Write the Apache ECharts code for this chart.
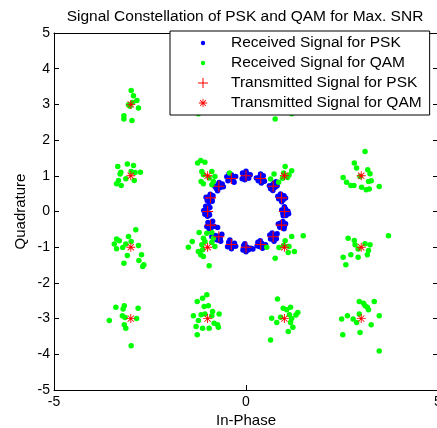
<!DOCTYPE html>
<html><head><meta charset="utf-8">
<script src="https://cdn.jsdelivr.net/npm/echarts@6/dist/echarts.min.js"></script>
<style>html,body{margin:0;padding:0;background:#fff}#c{width:437px;height:428px}</style>
</head><body><div id="c"></div>
<script>
const titleText = 'Signal Constellation of PSK and QAM for Max. SNR';
const xName = 'In-Phase';
const yName = 'Quadrature';
const seriesNames = ['Received Signal for PSK','Received Signal for QAM','Transmitted Signal for PSK','Transmitted Signal for QAM'];
const axisMin = -5, axisMax = 5;

const pskTx = [[1,0],[0.924,0.383],[0.707,0.707],[0.383,0.924],[0,1],[-0.383,0.924],[-0.707,0.707],[-0.924,0.383],
  [-1,0],[-0.924,-0.383],[-0.707,-0.707],[-0.383,-0.924],[0,-1],[0.383,-0.924],[0.707,-0.707],[0.924,-0.383]];

const qamTx = [[-3,3],[-1,3],[1,3],[3,3],[-3,1],[-1,1],[1,1],[3,1],[-3,-1],[-1,-1],[1,-1],[3,-1],[-3,-3],[-1,-3],[1,-3],[3,-3]];

const pskRx = [
  [1.03,0.07],[0.96,-0.05],[1.09,0.01],[0.93,0.04],[1.04,-0.11],[1.00,0.13],[1.11,-0.06],[0.97,-0.12],
  [0.90,0.42],[0.97,0.33],[0.85,0.36],[0.99,0.44],[0.93,0.27],[0.83,0.43],[1.03,0.38],[0.90,0.49],
  [0.69,0.75],[0.76,0.68],[0.64,0.64],[0.73,0.80],[0.61,0.72],[0.81,0.72],[0.70,0.59],[0.78,0.83],
  [0.36,0.97],[0.43,0.89],[0.32,0.86],[0.45,1.00],[0.38,1.05],[0.27,0.94],[0.48,0.85],[0.40,0.80],
  [0.03,1.05],[-0.06,0.97],[0.07,0.93],[-0.09,1.08],[0.00,1.13],[0.11,1.03],[-0.03,0.89],[-0.10,0.92],
  [-0.41,0.97],[-0.34,0.88],[-0.47,0.86],[-0.38,1.03],[-0.27,0.98],[-0.50,0.97],[-0.31,0.82],[-0.44,1.06],
  [-0.73,0.75],[-0.67,0.67],[-0.77,0.64],[-0.62,0.77],[-0.70,0.81],[-0.81,0.70],[-0.59,0.69],[-0.74,0.58],
  [-0.96,0.41],[-0.89,0.34],[-1.01,0.31],[-0.86,0.44],[-0.93,0.48],[-1.04,0.40],[-0.96,0.25],[-0.88,0.29],
  [-1.03,0.06],[-0.97,-0.04],[-1.07,-0.08],[-0.94,0.11],[-1.05,0.15],[-1.00,-0.13],[-1.10,0.03],[-0.95,-0.10],
  [-0.94,-0.35],[-0.89,-0.44],[-0.99,-0.31],[-0.83,-0.41],[-0.96,-0.48],[-0.74,-0.45],[-0.87,-0.27],[-1.02,-0.42],
  [-0.73,-0.69],[-0.67,-0.76],[-0.80,-0.67],[-0.89,-0.71],[-0.63,-0.64],[-0.75,-0.80],[-0.82,-0.76],[-0.66,-0.83],
  [-0.41,-0.91],[-0.35,-0.98],[-0.45,-0.86],[-0.30,-0.89],[-0.48,-0.99],[-0.38,-1.04],[-0.27,-0.97],[-0.42,-0.80],
  [0.03,-1.00],[-0.06,-0.95],[0.07,-1.07],[-0.08,-1.08],[0.00,-1.13],[0.13,-1.03],[-0.03,-0.90],[0.18,-1.05],
  [0.41,-0.89],[0.35,-0.98],[0.46,-0.95],[0.31,-0.86],[0.43,-1.03],[0.51,-0.93],[0.37,-0.82],[0.29,-0.96],
  [0.70,-0.73],[0.76,-0.67],[0.64,-0.77],[0.81,-0.62],[0.73,-0.83],[0.62,-0.66],[0.79,-0.76],[0.68,-0.60],
  [0.95,-0.38],[0.89,-0.33],[1.00,-0.41],[0.84,-0.35],[0.96,-0.28],[1.03,-0.34],[0.88,-0.44],[0.99,-0.48]
];

const qamRx = [
  [-2.99,3.39],[-2.93,3.24],[-2.84,3.11],[-2.80,2.90],[-3.06,2.99],[-3.18,2.68],[-3.18,2.59],[-2.97,2.55],[-2.95,3.05],[-3.02,2.95],
  [-1.24,2.74],[-0.95,3.05],[-1.05,2.90],[-0.88,3.12],[-1.10,3.20],
  [0.76,2.59],[1.19,2.74],[1.02,3.05],[0.92,2.90],[1.10,3.15],
  [3.05,2.92],[2.88,3.10],[3.20,3.15],[2.95,3.30],[3.12,2.85],
  [-3.34,1.26],[-3.09,1.33],[-2.93,1.29],[-2.75,1.10],[-3.26,1.10],[-3.28,1.05],[-3.32,0.87],[-3.37,0.78],[-3.25,0.73],[-3.13,0.92],[-2.91,0.87],[-2.99,1.12],[-2.89,1.09],
  [-1.26,1.36],[-1.18,1.43],[-1.07,1.38],[-1.15,1.12],[-1.11,1.03],[-1.17,0.84],[-1.11,0.78],[-0.89,1.12],[-0.85,0.84],[-0.89,0.75],[-0.43,1.08],[-0.96,0.94],[-0.81,0.98],
  [1.02,1.26],[1.19,1.14],[0.73,1.05],[0.64,0.91],[0.95,0.93],[1.08,0.95],[0.98,1.08],[1.12,1.02],[0.85,0.82],
  [3.10,1.68],[2.82,1.36],[2.88,1.22],[3.17,1.17],[3.23,1.06],[2.53,0.95],[2.62,0.82],[2.73,0.73],[2.81,0.73],[3.01,0.68],[3.19,0.84],[3.26,0.86],[3.13,0.61],[3.21,0.63],[3.47,0.70],[2.97,0.98],
  [-2.87,-0.51],[-3.06,-0.70],[-3.37,-0.77],[-3.30,-0.82],[-3.43,-0.91],[-3.37,-1.04],[-3.21,-1.01],[-3.13,-0.91],[-2.99,-0.84],[-2.80,-0.95],[-3.09,-1.23],[-2.72,-1.21],[-3.18,-1.45],[-2.79,-1.37],[-2.66,-1.49],[-2.69,-1.54],
  [-1.22,-0.59],[-1.02,-0.61],[-0.89,-0.59],[-1.11,-0.75],[-1.07,-0.84],[-1.40,-0.84],[-1.50,-1.00],[-1.15,-0.93],[-1.13,-1.07],[-1.18,-1.21],[-1.11,-1.26],[-0.89,-0.87],[-0.81,-0.98],[-0.96,-1.52],[-1.24,-1.12],[-0.85,-0.75],
  [1.02,-0.82],[1.19,-0.70],[0.86,-1.01],[1.10,-1.15],[1.26,-1.12],[0.54,-1.00],[0.76,-1.31],[1.49,-0.68],[0.98,-0.95],[1.12,-0.98],
  [3.71,-0.68],[2.66,-0.75],[2.82,-0.81],[2.84,-0.93],[2.92,-1.05],[3.10,-0.90],[3.23,-0.93],[3.19,-1.09],[3.16,-1.21],[2.73,-1.21],[2.92,-1.28],[2.53,-1.28],[2.60,-1.49],
  [-3.39,-2.68],[-3.17,-2.64],[-3.20,-2.73],[-2.81,-2.71],[-3.22,-2.92],[-3.15,-2.97],[-3.56,-3.05],[-2.85,-3.00],[-3.17,-3.17],[-3.13,-3.27],[-2.99,-3.76],
  [-1.02,-2.33],[-1.13,-2.43],[-1.27,-2.52],[-1.09,-2.66],[-0.98,-2.64],[-0.87,-2.80],[-1.37,-2.92],[-1.17,-2.89],[-1.07,-2.87],[-0.89,-2.92],[-0.70,-2.87],[-1.24,-3.05],[-0.83,-3.13],[-0.74,-3.17],[-0.72,-3.24],[-1.30,-3.22],[-1.13,-3.27],[-0.96,-3.27],[-1.27,-3.45],
  [0.82,-2.45],[0.97,-2.71],[1.06,-2.75],[1.16,-2.68],[1.13,-2.89],[1.35,-2.83],[1.30,-2.90],[0.67,-2.99],[0.90,-2.96],[1.19,-3.00],[0.80,-3.11],[1.16,-3.11],[1.22,-3.24],[1.10,-3.36],[0.64,-3.60],
  [2.95,-2.52],[3.06,-2.57],[3.10,-2.64],[3.16,-2.68],[3.19,-2.75],[3.34,-2.52],[2.64,-2.92],[2.49,-3.01],[2.79,-3.01],[2.88,-3.11],[2.95,-2.87],[3.47,-2.92],[3.26,-3.17],[2.97,-3.39],[2.52,-3.45],[3.47,-3.91]
];

const PLUS = 'path://M4.5,0L5.5,0L5.5,4.5L10,4.5L10,5.5L5.5,5.5L5.5,10L4.5,10L4.5,5.5L0,5.5L0,4.5L4.5,4.5Z';
const STAR = 'path://M4.5,0L5.5,0L5.5,4.5L10,4.5L10,5.5L5.5,5.5L5.5,10L4.5,10L4.5,5.5L0,5.5L0,4.5L4.5,4.5Z' +
  'M1.85,1.15L8.85,8.15L8.15,8.85L1.15,1.85Z M8.85,1.85L1.85,8.85L1.15,8.15L8.15,1.15Z';
const DOT = 'path://M0,0M10,10M7.2,5A2.2,2.2,0,1,1,2.8,5A2.2,2.2,0,1,1,7.2,5Z';
const STAR_L = 'path://M-1,-1M11,11' + STAR.slice(7);

const FONT = '"Liberation Sans", Arial, Helvetica, sans-serif';
const chart = echarts.init(document.getElementById('c'), null, {renderer: 'canvas'});
const axisCommon = {
  min: axisMin, max: axisMax,
  axisLine: {show: true, onZero: false, lineStyle: {color: '#000', width: 1}},
  axisTick: {show: true, inside: true, length: 5, lineStyle: {color: '#000'}},
  splitLine: {show: false}
};
chart.setOption({
  animation: false,
  backgroundColor: '#fff',
  title: {
    text: titleText, left: 240, top: 4, textAlign: 'center',
    textStyle: {fontFamily: FONT, fontSize: 15.5, fontWeight: 'normal', color: '#000'}
  },
  grid: {left: 54, top: 33, width: 384, height: 357, containLabel: false, outerBoundsMode: 'none'},
  xAxis: [
    Object.assign({}, axisCommon, {
      type: 'value', position: 'bottom', interval: 5,
      name: xName, nameLocation: 'middle', nameGap: 23, nameMoveOverlap: false,
      nameTextStyle: {fontFamily: FONT, fontSize: 15, color: '#000'},
      axisLabel: {fontFamily: FONT, fontSize: 14, color: '#000', margin: 5}
    }),
    Object.assign({}, axisCommon, {
      type: 'value', position: 'top', interval: 5, axisLabel: {show: false}
    })
  ],
  yAxis: [
    Object.assign({}, axisCommon, {
      type: 'value', position: 'left', interval: 1,
      name: yName, nameLocation: 'middle', nameGap: 26, nameMoveOverlap: false,
      nameTextStyle: {fontFamily: FONT, fontSize: 15, color: '#000'},
      axisLabel: {fontFamily: FONT, fontSize: 14, color: '#000', margin: 4}
    }),
    Object.assign({}, axisCommon, {
      type: 'value', position: 'right', interval: 1, axisLabel: {show: false}
    })
  ],
  legend: {
    orient: 'vertical', left: 170, top: 31,
    padding: [4, 8, 4, 28], itemGap: 4,
    itemWidth: 46, itemHeight: 10,
    backgroundColor: '#fff', borderColor: '#000', borderWidth: 1,
    textStyle: {fontFamily: FONT, fontSize: 15.5, color: '#000', lineHeight: 15},
    data: [
      {name: seriesNames[0], icon: DOT},
      {name: seriesNames[1], icon: DOT},
      {name: seriesNames[2], icon: PLUS},
      {name: seriesNames[3], icon: STAR_L}
    ]
  },
  series: [
    {name: seriesNames[0], type: 'scatter', data: pskRx, symbol: 'circle', symbolSize: 5.5,
     itemStyle: {color: '#0000ff', opacity: 1}, silent: true},
    {name: seriesNames[1], type: 'scatter', data: qamRx, symbol: 'circle', symbolSize: 5.5,
     itemStyle: {color: '#00ff00', opacity: 1}, silent: true},
    {name: seriesNames[2], type: 'scatter', data: pskTx, symbol: PLUS, symbolSize: 11,
     itemStyle: {color: '#ff0000', opacity: 1}, silent: true},
    {name: seriesNames[3], type: 'scatter', data: qamTx, symbol: STAR, symbolSize: 9,
     itemStyle: {color: '#ff0000', opacity: 1}, silent: true}
  ]
});
</script>
</body></html>
